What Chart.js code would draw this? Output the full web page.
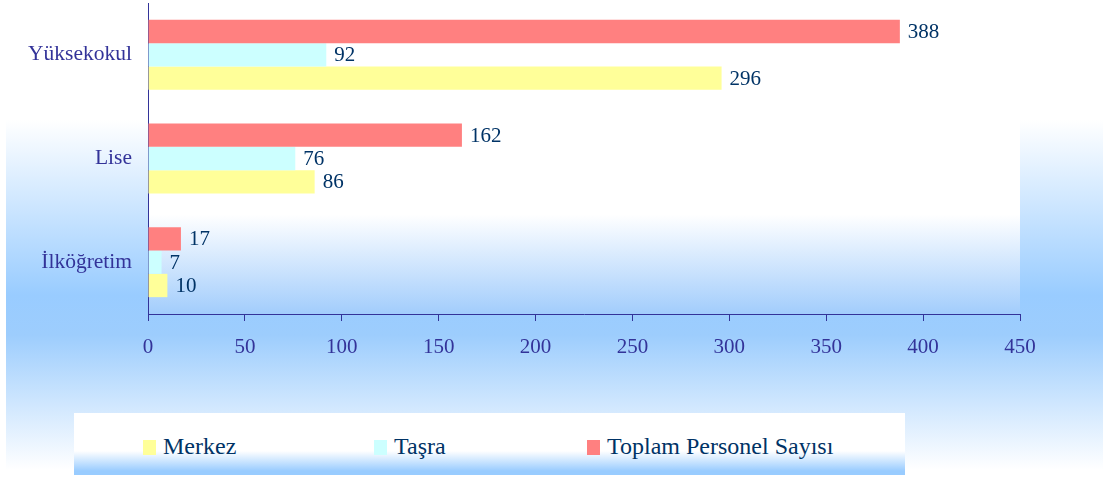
<!DOCTYPE html>
<html>
<head>
<meta charset="utf-8">
<script src="https://cdn.jsdelivr.net/npm/chart.js@4"></script>
<style>
    html, body { margin: 0; padding: 0; background: #fff; }
    #wrap { position: relative; width: 1103px; height: 477px; overflow: hidden; }
    #bg {
        position: absolute; left: 6px; top: 0; width: 1097px; height: 477px;
        background: linear-gradient(to bottom, #ffffff 0px, #ffffff 120px, #99ccff 295px, #9dcdfd 335px, #ffffff 470px);
    }
    #chart { position: absolute; left: 0; top: 0; }
    #legend {
        position: absolute; left: 74px; top: 413px; width: 831px; height: 62px;
        background: linear-gradient(to bottom, #ffffff 0px, #ffffff 38px, #99ccff 58px);
        font-family: "Liberation Serif", serif; font-size: 24px; color: #003366;
    }
    .item { position: absolute; top: 20px; height: 26px; line-height: 26px; white-space: nowrap; }
    .box { display: inline-block; width: 13px; height: 15px; vertical-align: -1px; margin-right: 7px; }
</style>
</head>
<body>
<div id="wrap">
    <div id="bg"></div>
    <canvas id="chart" width="1103" height="477"></canvas>
    <div id="legend">
        <div class="item" style="left:69px"><span class="box" style="background:#ffff99"></span>Merkez</div>
        <div class="item" style="left:300px"><span class="box" style="background:#ccffff"></span>Taşra</div>
        <div class="item" style="left:513px"><span class="box" style="background:#ff8080"></span>Toplam Personel Sayısı</div>
    </div>
</div>
<script>
const categories = ['Yüksekokul', 'Lise', 'İlköğretim'];
const toplam = [388, 162, 17];
const tasra = [92, 76, 7];
const merkez = [296, 86, 10];

// plot area: white fading to light blue near the axis
const plotBackground = {
    id: 'plotBackground',
    beforeDraw(chart) {
        const { ctx, chartArea: a } = chart;
        const g = ctx.createLinearGradient(0, a.top, 0, a.bottom);
        g.addColorStop(0, '#ffffff');
        g.addColorStop(0.68, '#ffffff');
        g.addColorStop(1, '#a2cdfc');
        ctx.save();
        ctx.fillStyle = g;
        ctx.fillRect(a.left, a.top, a.right - a.left, a.bottom - a.top);
        ctx.restore();
    }
};

const valueLabels = {
    id: 'valueLabels',
    afterDatasetsDraw(chart) {
        const ctx = chart.ctx;
        ctx.save();
        ctx.font = '21px "Liberation Serif"';
        ctx.fillStyle = '#003366';
        ctx.textBaseline = 'middle';
        chart.data.datasets.forEach((ds, i) => {
            chart.getDatasetMeta(i).data.forEach((bar, j) => {
                ctx.fillText(ds.data[j], bar.x + 8, bar.y + 1);
            });
        });
        ctx.restore();
    }
};

new Chart(document.getElementById('chart'), {
    type: 'bar',
    data: {
        labels: categories,
        datasets: [
            { label: 'Toplam Personel Sayısı', data: toplam, backgroundColor: '#ff8080' },
            { label: 'Taşra', data: tasra, backgroundColor: '#ccffff' },
            { label: 'Merkez', data: merkez, backgroundColor: '#ffff99' }
        ]
    },
    options: {
        indexAxis: 'y',
        responsive: false,
        animation: false,
        layout: { padding: { top: 3, right: 83, left: 0, bottom: 0 } },
        datasets: { bar: { barPercentage: 1, categoryPercentage: 0.675 } },
        plugins: {
            legend: { display: false },
            tooltip: { enabled: false }
        },
        scales: {
            x: {
                min: 0,
                max: 450,
                afterFit: s => { s.height = 163; },
                ticks: {
                    stepSize: 50,
                    padding: 14,
                    color: '#333399',
                    font: { family: 'Liberation Serif', size: 21 }
                },
                grid: { drawOnChartArea: false, drawTicks: true, tickLength: 7, color: '#333399' },
                border: { color: '#333399', width: 1 }
            },
            y: {
                afterFit: s => { s.width = 148; s.paddingTop = 0; s.paddingBottom = 0; },
                ticks: {
                    padding: 8,
                    color: '#333399',
                    font: { family: 'Liberation Serif', size: 21.5 }
                },
                grid: { display: false },
                border: { color: '#333399', width: 1 }
            }
        }
    },
    plugins: [plotBackground, valueLabels]
});
</script>
</body>
</html>
